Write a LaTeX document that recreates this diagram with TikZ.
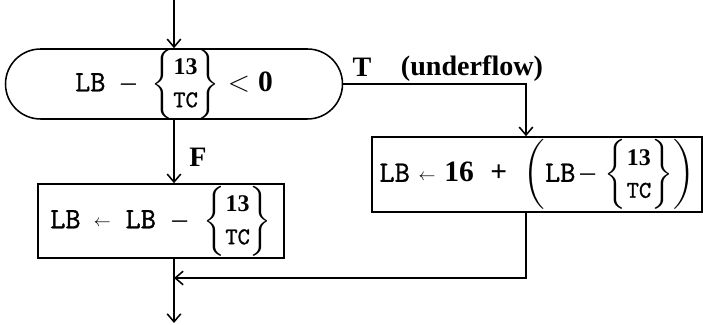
\documentclass[tikz,border=0pt]{standalone}
\usepackage{amsmath}
\usepackage{fontspec}
\setmainfont{Liberation Serif}
\setmonofont{Latin Modern Mono}[FakeBold=1.2]
\usetikzlibrary{shapes.misc}
\usetikzlibrary{arrows.meta}
\usetikzlibrary{positioning}

\newcommand{\pick}{\left\{\begin{matrix}\text{\fontsize{17}{18}\selectfont\bfseries 13}\\[-2pt]
    \text{\fontsize{17}{18}\selectfont\ttfamily TC}\end{matrix}\right\}}
\newcommand{\larr}{\raisebox{1pt}{\fontsize{13}{13}\selectfont$\leftarrow$}}

\begin{document}
\begin{tikzpicture}[font=\fontsize{21}{25}\selectfont, line width=1.1pt,
        >={Straight Barb[length=2mm,width=3.4mm]},
        lbl/.style={font=\fontsize{20}{24}\selectfont\bfseries,inner sep=1pt}]
        \useasboundingbox (0,0) rectangle (17.575,8.125);

        \coordinate (in) at (4.35,8.125);
        \coordinate (rx) at (13.15,0);
        \coordinate (join) at (4.35,1.175);
        \coordinate (out) at (4.35,0.05);

        \node[draw,rounded rectangle,minimum width=8.425cm,minimum height=1.6cm,inner sep=0pt]
        (test) at (4.35,6.025) {\texttt{LB}\; -- \;$\pick < \textbf{0}$};

        \node[draw,minimum width=6.15cm,minimum height=1.85cm,inner sep=0pt]
        (sub) at (4.025,2.6) {\texttt{LB}\hspace{0.45em}\larr\hspace{0.5em}\texttt{LB}\;\;--\;\;$\pick$};

        \node[draw,minimum width=8.25cm,minimum height=1.875cm,inner sep=0pt]
        (fix) at (13.425,3.7625) {\texttt{LB}\hspace{0.3em}\larr\hspace{0.3em}\textbf{16}\;\;\textbf{+}\;\;$\left(\text{\texttt{LB}}\,\text{--}\,\pick\right)$};

        \node[lbl] (tval) at (9.05,6.45) {T};
        \node[lbl] (why) at (11.8,6.4) {(underflow)};
        \node[lbl] (fval) at (4.95,4.2) {F};

        \draw[->] (in) -- (test.north);
        \draw[->] (test.south) -- (test.south |- sub.north);
        \draw[->] (test.east) -| (rx |- fix.north);
        \draw[->] (rx |- fix.south) |- (join);
        \draw[->] (join |- sub.south) -- (out);
\end{tikzpicture}
\end{document}
